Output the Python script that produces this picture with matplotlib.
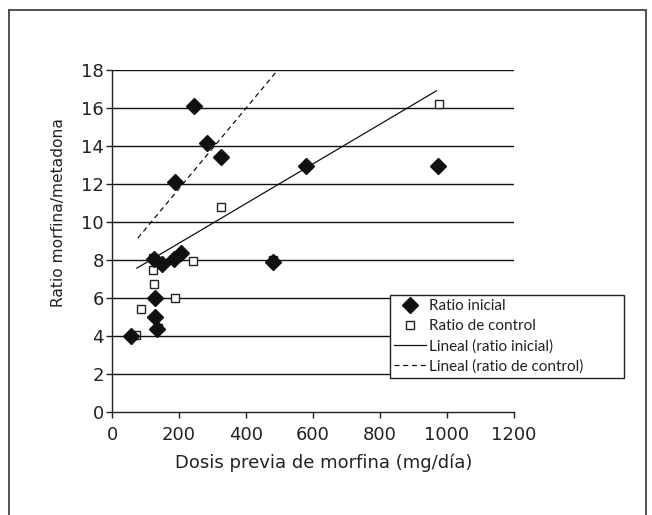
import matplotlib
matplotlib.use("Agg")
import matplotlib.pyplot as plt
from matplotlib.lines import Line2D

plt.rcParams['font.family'] = ['DejaVu Sans']

# Data
inicial_x = [58, 124, 148, 186, 207, 129, 129, 134, 246, 283, 326, 189, 481, 578, 973]
inicial_y = [4.0, 8.05, 7.8, 8.06, 8.38, 6.01, 4.99, 4.38, 16.09, 14.16, 13.42, 12.09, 7.92, 12.97, 12.97]

control_x = [72, 87, 123, 125, 189, 242, 325, 976, 138, 481, 122]
control_y = [4.03, 5.40, 7.45, 6.75, 5.98, 7.97, 10.78, 16.19, 4.43, 8.0, 8.1]

trend_inicial_x = [74, 968]
trend_inicial_y = [7.57, 16.9]
trend_control_x = [77, 493]
trend_control_y = [9.15, 17.96]

x_ticks = [0, 200, 400, 600, 800, 1000, 1200]
y_ticks = [0, 2, 4, 6, 8, 10, 12, 14, 16, 18]

labels = ["Ratio inicial", "Ratio de control", "Lineal (ratio inicial)", "Lineal (ratio de control)"]
xlabel = "Dosis previa de morfina (mg/día)"
ylabel = "Ratio morfina/metadona"

W, H = 652, 515
fig = plt.figure(figsize=(W / 100, H / 100), dpi=100)
fig.patch.set_facecolor('white')

# outer frame
frame_col = '#444444'
fig.add_artist(Line2D([9 / W, 9 / W], [0, 1 - 10 / H], transform=fig.transFigure, color=frame_col, lw=1.3))
fig.add_artist(Line2D([9 / W, 645.5 / W], [1 - 10 / H, 1 - 10 / H], transform=fig.transFigure, color=frame_col, lw=1.3))
fig.add_artist(Line2D([645.5 / W, 645.5 / W], [0, 1 - 10 / H], transform=fig.transFigure, color=frame_col, lw=1.3))

ax = fig.add_axes([112 / W, 1 - 412 / H, (514 - 112) / W, (412 - 70) / H])
ax.set_xlim(0, 1200)
ax.set_ylim(0, 18)

for yv in y_ticks[1:]:
    ax.axhline(yv, color='#111111', lw=1.0, zorder=1)

ax.plot(trend_inicial_x, trend_inicial_y, color='#111111', lw=0.9, zorder=2, label=labels[2])
ax.plot(trend_control_x, trend_control_y, color='#111111', lw=0.9, ls=(0, (4, 3)), zorder=2, label=labels[3])

ax.plot(control_x, control_y, ls='none', marker='s', ms=5.2, mfc='white', mec='#222222', mew=1.0, zorder=3, label=labels[1])
ax.plot(inicial_x, inicial_y, ls='none', marker='D', ms=8, mfc='#111111', mec='#111111', zorder=4, label=labels[0])

for s in ['top', 'right']:
    ax.spines[s].set_visible(False)
for s in ['left', 'bottom']:
    ax.spines[s].set_color('#222222')
    ax.spines[s].set_linewidth(1.0)

ax.set_xticks(x_ticks)
ax.set_yticks(y_ticks)
ax.tick_params(axis='both', direction='out', length=4, width=1.0, color='#222222',
               labelsize=13, labelcolor='#222222')
ax.tick_params(axis='x', pad=6)
ax.tick_params(axis='y', pad=2)
ax.set_xlabel(xlabel, fontsize=13, color='#222222', labelpad=7)
ax.set_ylabel(ylabel, fontsize=11.2, color='#222222', labelpad=11)
ax.xaxis.label.set_x((324 - 112) / 402)
ax.yaxis.label.set_y((412 - 213) / 342)

handles, labs = ax.get_legend_handles_labels()
order = [labs.index(l) for l in labels]
leg = fig.legend([handles[i] for i in order], [labs[i] for i in order],
                 loc='upper left',
                 bbox_to_anchor=(389.6 / W, 1 - 379 / H, (624 - 389.6) / W, (379 - 294.7) / H),
                 bbox_transform=fig.transFigure, mode='expand',
                 prop={'family': ['Lato', 'DejaVu Sans'], 'size': 11}, frameon=True,
                 fancybox=False, edgecolor='#222222', framealpha=1,
                 handlelength=2.1, handletextpad=0.15, labelspacing=0.38,
                 borderpad=0.3, borderaxespad=0)
leg.get_frame().set_linewidth(1.0)
for t in leg.get_texts():
    t.set_color('#222222')

fig.savefig('out.png', dpi=100)
